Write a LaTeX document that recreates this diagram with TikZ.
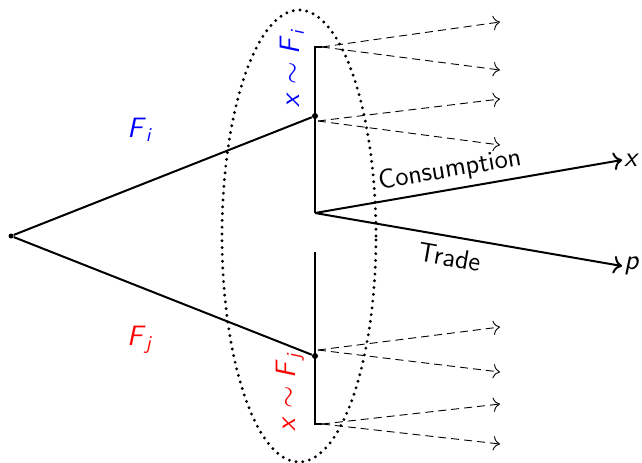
\documentclass[tikz,border=0pt]{standalone}
\usepackage{amsmath}
\usetikzlibrary{positioning,arrows.meta,shapes.geometric}
\definecolor{ink}{RGB}{0,0,0}
\newcommand{\sfv}[1]{\textsf{\textit{#1}}}
\tikzset{
  dot/.style={circle, fill=ink, inner sep=0pt, minimum size=3pt},
  branch/.style={line width=1pt, draw=ink},
  choice/.style={-{To[length=1.5mm]}, line width=1pt, draw=ink},
  guess/.style={-{To[length=1.2mm]}, dash pattern=on 4pt off 2.5pt, line width=0.45pt, draw=ink},
  lab/.style={font=\fontsize{14}{16}\selectfont\sffamily},
  act/.style={font=\fontsize{13.5}{16}\selectfont\sffamily, inner sep=2pt},
  group/.style={ellipse, draw=ink, dash pattern=on 0pt off 3.4pt, line cap=round,
    line width=1.6pt, minimum width=77pt, minimum height=226pt, inner sep=0pt},
}
\begin{document}
\begin{tikzpicture}[x=0.5pt, y=-0.5pt]
  \useasboundingbox (0,0) rectangle (642,462);
  % decision points
  \node[dot, minimum size=2.5pt] (root) at (11,236) {};
  \node[dot] (ni) at (315,116) {};
  \node[dot] (nj) at (315,356) {};
  \coordinate (ti) at (315,47);
  \coordinate (tiE) at (322,47);
  \coordinate (m) at (315,213);
  \coordinate (g) at (315,252);
  \coordinate (bj) at (315,424);
  \coordinate (bjE) at (322,424);
  \coordinate (si) at (318,121);
  \coordinate (sj) at (318,350);
  \node[group] (grp) at (299,236) {};
  % dashed ends
  \coordinate (di1) at (500,22);
  \coordinate (di2) at (500,70);
  \coordinate (di3) at (500,99);
  \coordinate (di4) at (500,145);
  \coordinate (dj1) at (500,327);
  \coordinate (dj2) at (500,372);
  \coordinate (dj3) at (500,404);
  \coordinate (dj4) at (500,444);
  % outcomes
  \node[lab, anchor=west, inner sep=1pt] (x) at (622,160) {\sfv{x}};
  \node[lab, anchor=west, inner sep=1pt] (p) at (622,266) {\sfv{p}};
  % labels
  \node[lab, text=blue] (Fi) at (140,130) {$\sfv{F}_{\sfv{i}}$};
  \node[lab, text=red] (Fj) at (140,340) {$\sfv{F}_{\sfv{j}}$};
  \node[lab, text=blue, rotate=90] (li) at (292,68) {$\sfv{x}\sim\sfv{F}_{\sfv{i}}$};
  \node[lab, text=red, rotate=90] (lj) at (290,392) {$\sfv{x}\sim\sfv{F}_{\sfv{j}}$};
  % tree
  \draw[branch] (root) -- (ni);
  \draw[branch] (root) -- (nj);
  \draw[branch] (tiE) -- (ti) -- (m);
  \draw[branch] (g) -- (bj) -- (bjE);
  \draw[choice] (m) -- node[act, sloped, above=1pt, pos=0.45] {Consumption} (x.west);
  \draw[choice] (m) -- node[act, sloped, below=3pt, pos=0.45] {Trade} (p.west);
  \foreach \s/\e in {tiE/di1, tiE/di2, si/di3, si/di4, sj/dj1, sj/dj2, bjE/dj3, bjE/dj4}
    \draw[guess] (\s) -- (\e);
\end{tikzpicture}
\end{document}
